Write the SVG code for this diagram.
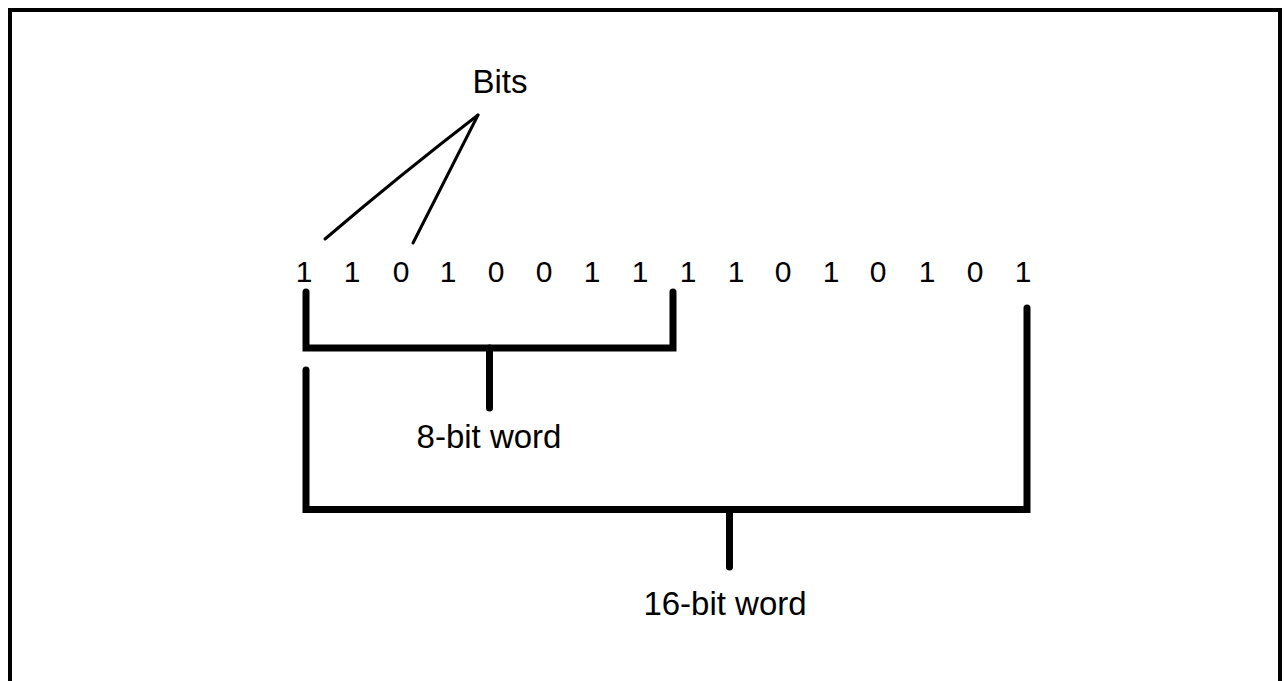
<svg xmlns="http://www.w3.org/2000/svg" width="1285" height="681" viewBox="0 0 1285 681">
  <style>
    .frame { fill: #ffffff; stroke: #000000; stroke-width: 4; }
    .lbl { font-family: "Liberation Sans", Arial, sans-serif; font-size: 33px; fill: #000000; text-anchor: middle; }
    .bit { font-family: "Liberation Sans", Arial, sans-serif; font-size: 30px; fill: #000000; text-anchor: middle; }
    .brace { fill: none; stroke: #000000; stroke-width: 7; stroke-linecap: round; stroke-linejoin: miter; }
    .thin { fill: none; stroke: #000000; stroke-width: 3; stroke-linecap: round; }
  </style>
  <rect class="frame" x="10" y="10" width="1270" height="700"/>

  <g id="connectors">
    <path class="thin" d="M325 239 Q400 175 478 115"/>
    <path class="thin" d="M413 243 L478 115"/>
    <path class="brace" d="M306 292 V348 H673 V292"/>
    <path class="brace" d="M489.5 348 V408"/>
    <path class="brace" d="M306 370 V509.5 H1027 V308"/>
    <path class="brace" d="M729.5 509.5 V567"/>
  </g>

  <g id="bits-label"><text class="lbl" x="500" y="93">Bits</text></g>

  <g id="bit-row">
    <text class="bit" x="304" y="282">1</text>
    <text class="bit" x="352" y="282">1</text>
    <text class="bit" x="401" y="282">0</text>
    <text class="bit" x="448" y="282">1</text>
    <text class="bit" x="496" y="282">0</text>
    <text class="bit" x="544" y="282">0</text>
    <text class="bit" x="592" y="282">1</text>
    <text class="bit" x="640" y="282">1</text>
    <text class="bit" x="688" y="282">1</text>
    <text class="bit" x="736" y="282">1</text>
    <text class="bit" x="783" y="282">0</text>
    <text class="bit" x="831" y="282">1</text>
    <text class="bit" x="878" y="282">0</text>
    <text class="bit" x="927" y="282">1</text>
    <text class="bit" x="975" y="282">0</text>
    <text class="bit" x="1023" y="282">1</text>
  </g>

  <g id="word8-label"><text class="lbl" x="489" y="448">8-bit word</text></g>
  <g id="word16-label"><text class="lbl" x="725" y="615">16-bit word</text></g>
</svg>
